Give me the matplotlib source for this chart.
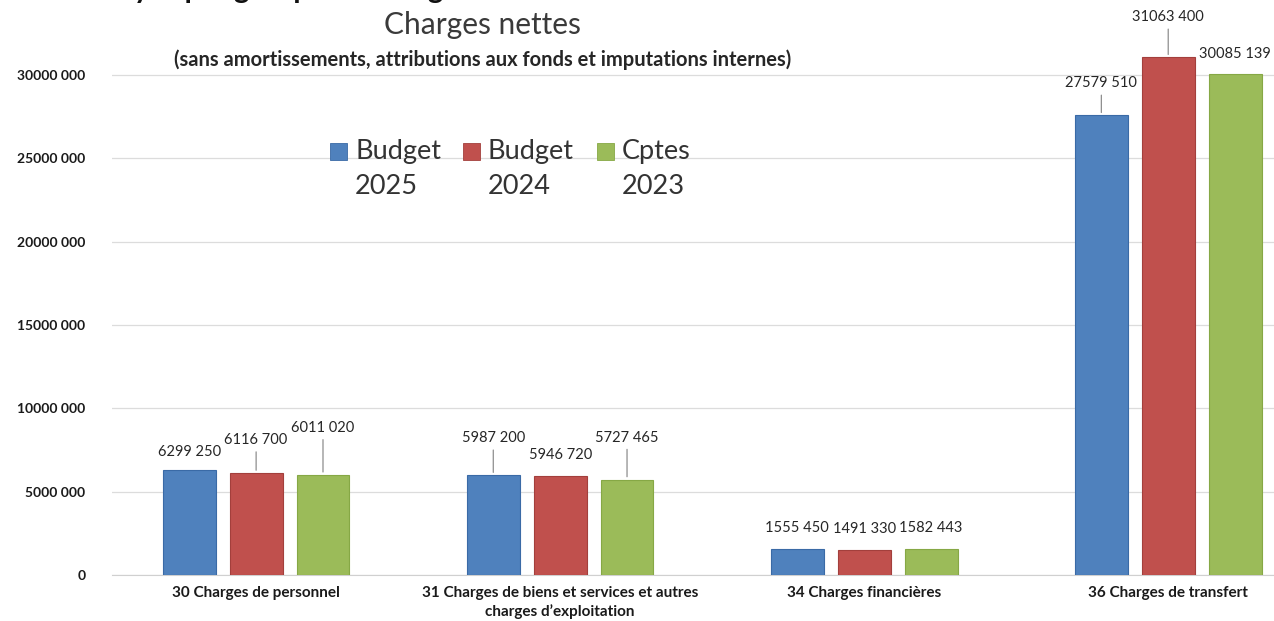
import matplotlib.pyplot as plt
from matplotlib.patches import Rectangle
import numpy as np

plt.rcParams['font.family'] = ['Lato', 'DejaVu Sans']

categories = [
    "30 Charges de personnel",
    "31 Charges de biens et services et autres\ncharges d\u2019exploitation",
    "34 Charges financières",
    "36 Charges de transfert",
]
series = [("Budget", "2025"), ("Budget", "2024"), ("Cptes", "2023")]
budget_2025 = [6299250, 5987200, 1555450, 27579510]
budget_2024 = [6116700, 5946720, 1491330, 31063400]
comptes_2023 = [6011020, 5727465, 1582443, 30085139]
yticks = [0, 5000000, 10000000, 15000000, 20000000, 25000000, 30000000]

colors = ["#4F81BD", "#C0504D", "#9BBB59"]
edges = ["#3a6aa6", "#a33f3c", "#86a845"]

# label offset above the bar top (px) and whether a leader line is drawn,
# per category, per series
label_offsets = [
    [(18, False), (33, True), (47, True)],
    [(37, True), (21, False), (42, True)],
    [(21, False), (21, False), (21, False)],
    [(32, True), (40, True), (20, False)],
]


def fmt(v):
    s = str(int(v))
    return s[:-3] + " " + s[-3:]


W, H = 1274, 621
fig = plt.figure(figsize=(W / 100, H / 100), dpi=100)
ax = fig.add_axes([112 / W, 46 / H, 1 - 112 / W, 575 / H])

x = np.arange(len(categories))
width = 0.174
step = 0.22
px = 0.72  # points per pixel

for i, (vals, col, ec) in enumerate(zip([budget_2025, budget_2024, comptes_2023], colors, edges)):
    xs = x + (i - 1) * step
    ax.bar(xs, vals, width, color=col, edgecolor=ec, linewidth=0.8, zorder=3)
    for j, (xx, v) in enumerate(zip(xs, vals)):
        off, leader = label_offsets[j][i]
        ax.annotate(fmt(v), (xx, v), xytext=(0, off * px),
                    textcoords="offset points", ha="center", va="center",
                    fontsize=10.5, color="#262626", zorder=4)
        if leader:
            ax.annotate("", (xx, v), xytext=(0, (off - 9) * px),
                        textcoords="offset points",
                        arrowprops=dict(arrowstyle="-", color="#808080", lw=0.8))

ax.set_xlim(-0.474, 3.348)
ax.set_ylim(0, 34500000)
ax.set_yticks(yticks)
ax.set_yticklabels([fmt(t) if t else "0" for t in yticks], fontsize=10,
                   fontweight="bold", color="#1a1a1a")
ax.set_xticks(x)
ax.set_xticklabels(categories, fontsize=11, fontweight="bold", color="#1a1a1a",
                   linespacing=1.35)
ax.tick_params(axis="both", length=0)
ax.tick_params(axis="x", pad=8)
ax.tick_params(axis="y", pad=19)
ax.grid(axis="y", color="#dcdcdc", linewidth=0.9, zorder=0)
for s in ["top", "right", "left"]:
    ax.spines[s].set_visible(False)
ax.spines["bottom"].set_color("#d0d0d0")

fig.text(482 / W, 1 - 25 / H, "Charges nettes", ha="center", va="center",
         fontsize=21.5, color="#3a3a3a")
fig.text(483 / W, 1 - 60 / H,
         "(sans amortissements, attributions aux fonds et imputations internes)",
         ha="center", va="center", fontsize=14.5, fontweight="bold", color="#262626")
fig.text(75 / W, 1 + 2 / H, "Analyse par groupe de charges", ha="left",
         va="baseline", fontsize=21, fontweight="bold", color="#111111")

# legend: square key beside the first line of a two-line label
key_x = [330, 463, 597]
for (top, bottom), col, ec, kx in zip(series, colors, edges, key_x):
    fig.patches.append(Rectangle((kx / W, 1 - 160 / H), 17 / W, 17 / H,
                                 transform=fig.transFigure, facecolor=col,
                                 edgecolor=ec, linewidth=0.6))
    fig.text((kx + 25) / W, 1 - 152 / H, top, ha="left", va="center",
             fontsize=19.5, color="#333333")
    fig.text((kx + 25) / W, 1 - 186 / H, bottom, ha="left", va="center",
             fontsize=19.5, color="#333333")

fig.savefig("out.png", dpi=100)
